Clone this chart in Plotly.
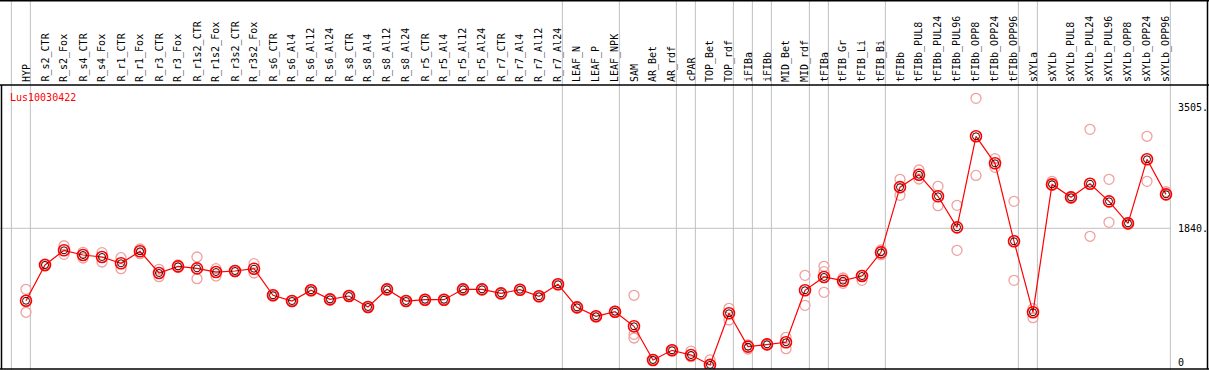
import plotly.graph_objects as go

categories = ["HYP", "R_s2_CTR", "R_s2_Fox", "R_s4_CTR", "R_s4_Fox", "R_r1_CTR", "R_r1_Fox",
              "R_r3_CTR", "R_r3_Fox", "R_r1s2_CTR", "R_r1s2_Fox", "R_r3s2_CTR", "R_r3s2_Fox",
              "R_s6_CTR", "R_s6_Al4", "R_s6_Al12", "R_s6_Al24", "R_s8_CTR", "R_s8_Al4",
              "R_s8_Al12", "R_s8_Al24", "R_r5_CTR", "R_r5_Al4", "R_r5_Al12", "R_r5_Al24",
              "R_r7_CTR", "R_r7_Al4", "R_r7_Al12", "R_r7_Al24", "LEAF_N", "LEAF_P", "LEAF_NPK",
              "SAM", "AR_Bet", "AR_rdf", "cPAR", "TOP_Bet", "TOP_rdf", "iFIBa", "iFIBb",
              "MID_Bet", "MID_rdf", "tFIBa", "tFIB_Gr", "tFIB_Li", "tFIB_Bi", "tFIBb",
              "tFIBb_PUL8", "tFIBb_PUL24", "tFIBb_PUL96", "tFIBb_OPP8", "tFIBb_OPP24",
              "tFIBb_OPP96", "sXYLa", "sXYLb", "sXYLb_PUL8", "sXYLb_PUL24", "sXYLb_PUL96",
              "sXYLb_OPP8", "sXYLb_OPP24", "sXYLb_OPP96"]

mean_values = [843, 1335, 1537, 1472, 1445, 1358, 1523, 1225, 1316, 1289, 1238, 1252, 1284,
               918, 839, 987, 862, 908, 757, 1000, 839, 857, 857, 1000, 1000, 945, 995, 904,
               1069, 752, 629, 692, 491, 28, 161, 96, -40, 670, 211, 243, 271, 987, 1170,
               1119, 1183, 1509, 2406, 2577, 2280, 1853, 3106, 2734, 1661, 684, 2444, 2266,
               2453, 2211, 1908, 2789, 2307]

rep_high = [1000, 1350, 1600, 1509, 1504, 1435, 1555, 1275, 1335, 1445, 1284, 1262, 1353,
            925, 845, 995, 870, 915, 765, 1010, 845, 865, 865, 1010, 1005, 950, 1000, 910,
            1075, 760, 635, 700, 918, 35, 170, 151, 28, 739, 234, 250, 340, 1193, 1316,
            1156, 1190, 1541, 2514, 2642, 2418, 2156, 3628, 2798, 2211, 734, 2486, 2275,
            3202, 2514, 1915, 3106, 2343]

rep_low = [684, 1320, 1482, 1431, 1376, 1284, 1490, 1174, 1300, 1146, 1183, 1245, 1225,
           910, 832, 980, 855, 900, 750, 992, 832, 850, 850, 992, 995, 940, 990, 898,
           1062, 745, 622, 685, 381, 20, 155, 73, -40, 578, 179, 236, 183, 780, 959,
           1083, 1124, 1477, 2294, 2518, 2151, 1537, 2568, 2679, 1124, 610, 2430, 2258,
           1730, 1922, 1900, 2486, 2300]

rep_extra_idx = [32, 42]
rep_extra_val = [330, 1243]

group_breaks = [-1, 0, 28, 31, 34, 35, 37, 38, 39, 41, 42, 45, 52, 53, 60]

y_ticks = [3505, 1840, 0]
y_tick_labels = ["3505.", "1840.", "0"]
gene_name = "Lus10030422"

W, H = 1209, 370
X0_PX, STEP_PX = 26, 19          # pixel of first category, pixels per category
PLOT_TOP, PLOT_BOT = 85, 369     # plot area in pixels
ZERO_PX, PX_PER_UNIT = 362, 0.07267

x_rng = [-X0_PX / STEP_PX, (W - X0_PX) / STEP_PX]
y_rng = [(ZERO_PX - PLOT_BOT) / PX_PER_UNIT, (ZERO_PX - PLOT_TOP) / PX_PER_UNIT]

idx = list(range(len(categories)))
rep_x = idx + idx + rep_extra_idx
rep_y = rep_high + rep_low + rep_extra_val

MONO = "DejaVu Sans Mono"

fig = go.Figure()
fig.add_trace(go.Scatter(
    x=rep_x, y=rep_y, mode="markers",
    marker=dict(symbol="circle-open", size=10, color="#f0a0a0", line=dict(width=1.3)),
    hoverinfo="skip"))
fig.add_trace(go.Scatter(
    x=idx, y=mean_values, mode="lines+markers",
    line=dict(color="#ff0000", width=1.2),
    marker=dict(symbol="circle-open", size=11, color="#ff0000", line=dict(width=1.6)),
    hoverinfo="skip"))
fig.add_trace(go.Scatter(
    x=idx, y=mean_values, mode="markers",
    marker=dict(symbol="circle-open", size=7, color="#300000", line=dict(width=1)),
    hoverinfo="skip"))

shapes = []
for g in group_breaks:
    shapes.append(dict(type="line", xref="x", yref="paper", x0=g + 0.23, x1=g + 0.23,
                       y0=0, y1=1, line=dict(color="#c0c0c0", width=1), layer="below"))
shapes.append(dict(type="line", xref="x", yref="y", x0=x_rng[0], x1=group_breaks[-1] + 0.23,
                   y0=y_ticks[1], y1=y_ticks[1], line=dict(color="#c0c0c0", width=1),
                   layer="below"))


def py(p):
    return 1 - p / H


def px(p):
    return p / W


black = dict(color="black", width=1.5)
shapes += [
    dict(type="line", xref="paper", yref="paper", x0=0, x1=1, y0=py(0.7), y1=py(0.7), line=black),
    dict(type="line", xref="paper", yref="paper", x0=0, x1=1, y0=py(PLOT_TOP), y1=py(PLOT_TOP), line=black),
    dict(type="line", xref="paper", yref="paper", x0=0, x1=1, y0=py(PLOT_BOT), y1=py(PLOT_BOT), line=black),
    dict(type="line", xref="paper", yref="paper", x0=px(1.5), x1=px(1.5), y0=py(PLOT_TOP), y1=py(PLOT_BOT), line=black),
    dict(type="line", xref="paper", yref="paper", x0=px(1207.5), x1=px(1207.5), y0=py(0), y1=py(PLOT_BOT), line=black),
]

annotations = []
for i, c in enumerate(categories):
    annotations.append(dict(x=i, xref="x", y=py(PLOT_TOP - 2), yref="paper", text=c,
                            textangle=-90, showarrow=False, xanchor="center", yanchor="bottom",
                            borderpad=0, font=dict(family=MONO, size=10, color="black")))
for v, t in zip(y_ticks, y_tick_labels):
    annotations.append(dict(x=px(1177), xref="paper", y=v, yref="y", text=t, showarrow=False,
                            xanchor="left", yanchor="middle", borderpad=0,
                            font=dict(family=MONO, size=10, color="black")))
annotations.append(dict(x=px(9), xref="paper", y=py(97), yref="paper", text=gene_name,
                        showarrow=False, xanchor="left", yanchor="middle", borderpad=0,
                        font=dict(family=MONO, size=10, color="#ff0000")))

fig.update_layout(
    width=W, height=H, autosize=False,
    margin=dict(l=0, r=0, t=0, b=0),
    paper_bgcolor="white", plot_bgcolor="rgba(0,0,0,0)",
    showlegend=False, hovermode=False,
    xaxis=dict(range=x_rng, visible=False, fixedrange=True, domain=[0, 1]),
    yaxis=dict(range=y_rng, visible=False, fixedrange=True,
               domain=[py(PLOT_BOT), py(PLOT_TOP)]),
    shapes=shapes, annotations=annotations,
)

fig.write_html("out.html", config={"displayModeBar": False},
               post_script="document.body.style.margin='0';document.body.style.overflow='hidden';")
